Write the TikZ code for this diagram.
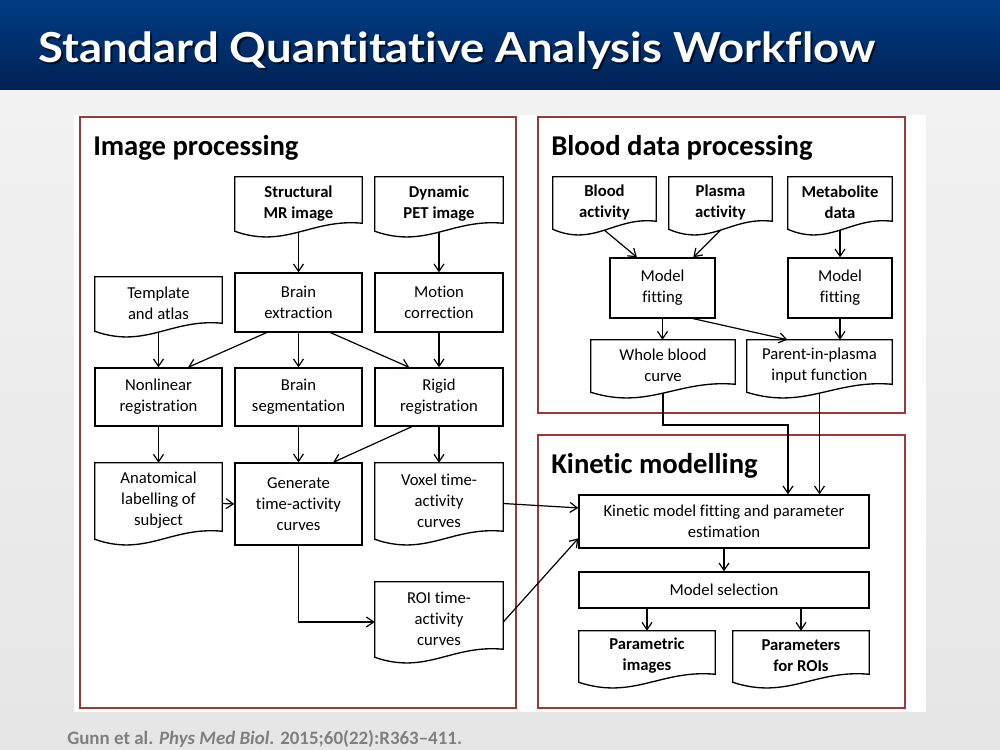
\documentclass[tikz,border=0pt]{standalone}
\usepackage{fontspec}
\setmainfont{Carlito}[Ligatures=NoCommon]
\newfontfamily\titlefont{Lato}[Ligatures=NoCommon]
\usetikzlibrary{calc,arrows.meta}

\definecolor{panelred}{RGB}{155,56,56}
\definecolor{hdrtop}{RGB}{0,60,132}
\definecolor{hdrbot}{RGB}{0,34,84}
\definecolor{citegray}{RGB}{127,127,127}
\newcommand{\px}{0.75pt}

\tikzset{
  boxfont/.style={font=\fontsize{12.5}{15.75}\selectfont},
  boxsize/.style 2 args={minimum width=#1*\px, minimum height=#2*\px},
  procbox/.style={draw, line width=1pt, align=center, inner sep=1pt, boxfont},
  docbox/.style={inner sep=0pt},
  doctext/.style={align=center, inner sep=0pt, yshift=2.4pt, boxfont},
  intext/.style={doctext, font=\fontsize{12.5}{15.75}\selectfont\bfseries},
  flow/.style={-{Straight Barb[length=5.5pt,width=7.5pt]}, line width=0.9pt},
  panel/.style={draw=panelred, line width=2.2pt},
  paneltitle/.style={anchor=base west, inner sep=0pt, font=\fontsize{21.5}{25}\selectfont\bfseries},
}

% outline of a document-shaped node, wavy bottom
\newcommand{\docline}[1]{%
  \draw[line width=1pt] ($(#1.south west)+(0,-5)$) -- (#1.north west) -- (#1.north east)
    -- ($(#1.south east)+(0,-13)$)
    .. controls ($(#1.south west)!0.6!(#1.south east)+(0,-18)$)
    and ($(#1.south west)!0.4!(#1.south east)+(0,13)$) .. ($(#1.south west)+(0,-5)$) -- cycle;}

\begin{document}
\begin{tikzpicture}[x=0.75pt,y=-0.75pt]
    \useasboundingbox (0,0) rectangle (1000,750);
    % slide background
    \shade[top color=gray!10, bottom color=gray!20] (0,89) rectangle (1000,750);
    \shade[top color=hdrtop, bottom color=hdrbot] (0,0) rectangle (1000,89);
    \fill[white] (74,115) rectangle (926,712);
    \node[anchor=base west, inner sep=0pt, text=black, opacity=0.6, font=\titlefont\bfseries\fontsize{31}{36}\selectfont] at (40,64) {\scalebox{1.1}[1]{Standard Quantitative Analysis Workflow}};
    \node[anchor=base west, inner sep=0pt, text=white, font=\titlefont\bfseries\fontsize{31}{36}\selectfont] (title) at (38,62) {\scalebox{1.1}[1]{Standard Quantitative Analysis Workflow}};
    \node[anchor=base west, inner sep=0pt, text=citegray, font=\fontsize{14.2}{17}\selectfont\bfseries] (cite) at (67,744) {Gunn et al. \textit{Phys Med Biol.} 2015;60(22):R363--411.};

    % panels
    \draw[panel] (80,117) rectangle (516,708);
    \draw[panel] (538,117) rectangle (905,413);
    \draw[panel] (538,435) rectangle (905,708);
    \node[paneltitle] (iptitle) at (93,155) {Image processing};
    \node[paneltitle] (bdtitle) at (551,155) {Blood data processing};
    \node[paneltitle] (kmtitle) at (551,473) {Kinetic modelling};

    % image processing
    \node[docbox, boxsize={127}{59}, label={[intext]center:{Structural\\MR image}}] (smr) at (298.5,206.5) {};
    \node[docbox, boxsize={128}{59}, label={[intext]center:{Dynamic\\PET image}}] (dpet) at (439,206.5) {};
    \node[docbox, boxsize={127}{59}, label={[doctext]center:{Template\\and atlas}}] (tmpl) at (158.5,306.5) {};
    \node[procbox, boxsize={127}{59}] (bext) at (298.5,302.5) {Brain\\extraction};
    \node[procbox, boxsize={128}{59}] (moco) at (439,302.5) {Motion\\correction};
    \node[procbox, boxsize={127}{58}] (nlreg) at (158.5,397) {Nonlinear\\registration};
    \node[procbox, boxsize={127}{58}] (bseg) at (298.5,397) {Brain\\segmentation};
    \node[procbox, boxsize={128}{58}] (rreg) at (439,397) {Rigid\\registration};
    \node[docbox, boxsize={127}{81}, label={[doctext]center:{Anatomical\\labelling of\\subject}}] (anat) at (158.5,503.5) {};
    \node[procbox, boxsize={127}{82}] (gtac) at (298.5,504) {Generate\\time-activity\\curves};
    \node[docbox, boxsize={128}{81}, label={[doctext]center:{Voxel time-\\activity\\curves}}] (voxel) at (439,503.5) {};
    \node[docbox, boxsize={128}{80}, label={[doctext]center:{ROI time-\\activity\\curves}}] (roi) at (439,622) {};

    % blood data processing
    \node[docbox, boxsize={103}{57}, label={[intext]center:{Blood\\activity}}] (bact) at (604.5,205.5) {};
    \node[docbox, boxsize={103}{57}, label={[intext]center:{Plasma\\activity}}] (pact) at (720.5,205.5) {};
    \node[docbox, boxsize={104}{57}, label={[intext]center:{Metabolite\\data}}] (meta) at (840,205.5) {};
    \node[procbox, boxsize={105}{60}] (mfit1) at (662.5,288) {Model\\fitting};
    \node[procbox, boxsize={104}{60}] (mfit2) at (840,288) {Model\\fitting};
    \node[docbox, boxsize={144}{57}, label={[doctext]center:{Whole blood\\curve}}] (wbc) at (663,368.5) {};
    \node[docbox, boxsize={145}{57}, label={[doctext]center:{Parent-in-plasma\\input function}}] (pif) at (819.5,368.5) {};

    % kinetic modelling
    \node[procbox, boxsize={290}{53}] (kfit) at (724,521.5) {Kinetic model fitting and parameter\\estimation};
    \node[procbox, boxsize={290}{36}] (msel) at (724,590) {Model selection};
    \node[docbox, boxsize={136}{56}, label={[intext]center:{Parametric\\images}}] (pimg) at (647,659) {};
    \node[docbox, boxsize={136}{56}, label={[intext]center:{Parameters\\for ROIs}}] (proi) at (801,659) {};

    \foreach \d in {smr,dpet,tmpl,anat,voxel,roi,bact,pact,meta,wbc,pif,pimg,proi}
        \docline{\d};

    % connectors
    \draw[flow] ($(smr.south)+(0,-4)$) -- (bext.north);
    \draw[flow] ($(dpet.south)+(0,-4)$) -- (moco.north);
    \draw[flow] ($(tmpl.south)+(0,-4)$) -- (nlreg.north);
    \draw[flow] ($(bext.south west)!0.25!(bext.south east)$) -- ($(nlreg.north west)!0.73!(nlreg.north east)$);
    \draw[flow] (bext.south) -- (bseg.north);
    \draw[flow] ($(bext.south west)!0.75!(bext.south east)$) -- ($(rreg.north west)!0.27!(rreg.north east)$);
    \draw[flow] (moco.south) -- (rreg.north);
    \draw[flow] (nlreg.south) -- (anat.north);
    \draw[flow] (bseg.south) -- (gtac.north);
    \draw[flow] ($(rreg.south west)!0.29!(rreg.south east)$) -- ($(gtac.north west)!0.77!(gtac.north east)$);
    \draw[flow] (rreg.south) -- (voxel.north);
    \draw[flow] (anat.east) -- (gtac.west);
    \draw[flow] (gtac.south) |- (roi.west);
    \draw[flow] (voxel.east) -- ($(kfit.north west)!0.25!(kfit.south west)$);
    \draw[flow] (roi.east) -- ($(kfit.north west)!0.81!(kfit.south west)$);

    \draw[flow] ($(bact.south)+(0,-4)$) -- ($(mfit1.north west)!0.26!(mfit1.north east)$);
    \draw[flow] ($(pact.south)+(0,-4)$) -- ($(mfit1.north west)!0.79!(mfit1.north east)$);
    \draw[flow] ($(meta.south)+(0,-4)$) -- (mfit2.north);
    \draw[flow] (mfit1.south) -- (mfit1.south |- wbc.north);
    \draw[flow] ($(mfit1.south west)!0.79!(mfit1.south east)$) -- ($(pif.north west)!0.28!(pif.north east)$);
    \draw[flow] (mfit2.south) -- (mfit2.south |- pif.north);
    \coordinate (wbcbend) at (788,425);
    \draw[flow] ($(wbc.south)+(0,-4)$) |- (wbcbend) -- (wbcbend |- kfit.north);
    \draw[flow] ($(pif.south)+(0,-4)$) -- (pif.south |- kfit.north);

    \draw[flow] (kfit.south) -- (msel.north);
    \draw[flow] (msel.south -| pimg.north) -- (pimg.north);
    \draw[flow] (msel.south -| proi.north) -- (proi.north);
\end{tikzpicture}
\end{document}
